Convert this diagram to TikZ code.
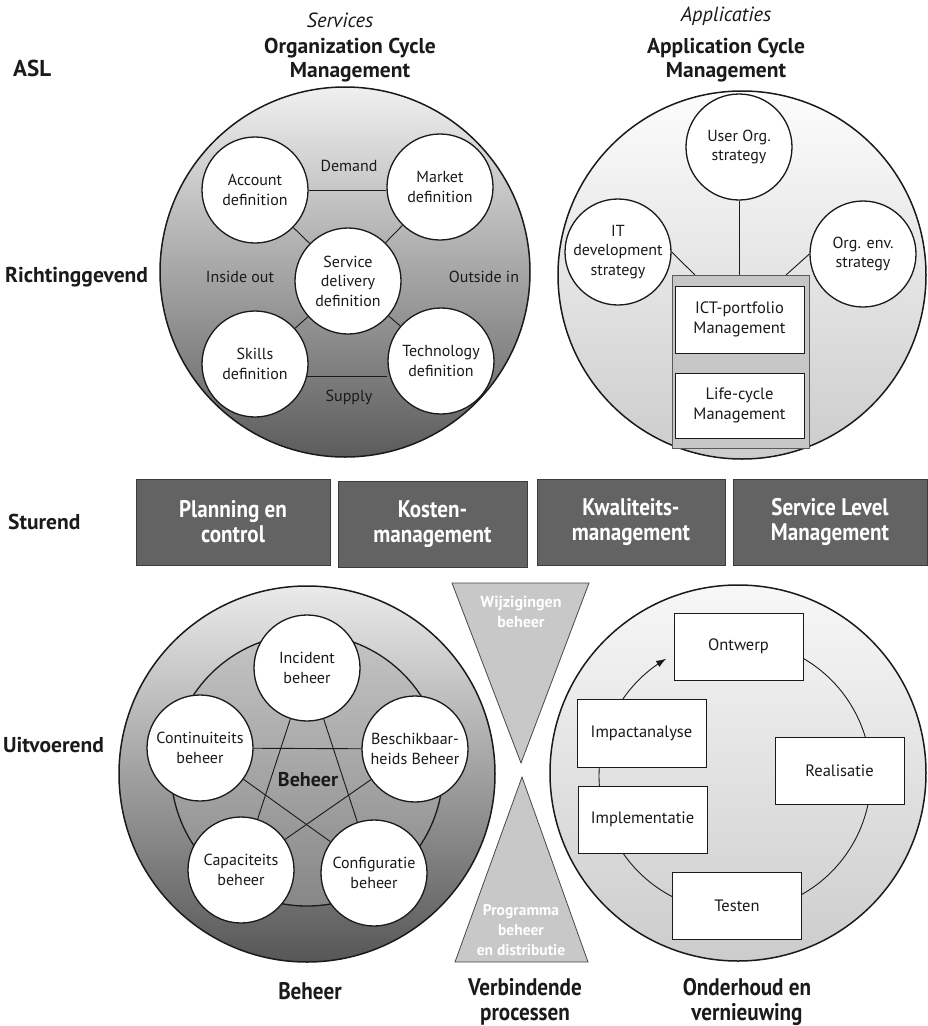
\documentclass[tikz,border=0pt]{standalone}
\usepackage{fontspec}
\setmainfont{PT Sans}
\newfontfamily\condfont{PT Sans}[FakeStretch=0.88]
\usetikzlibrary{arrows.meta,calc}
\pgfdeclarelayer{bg}
\pgfdeclarelayer{conn}
\pgfsetlayers{bg,conn,main}

\definecolor{ink}{HTML}{1A1A1A}
\definecolor{boxfill}{HTML}{636363}
\definecolor{boxedge}{HTML}{3C3C3C}
\definecolor{funnelgray}{HTML}{C8C8C8}
\definecolor{holdfill}{HTML}{C6C6C6}
\definecolor{holdedge}{HTML}{5A5A5A}

\begin{document}
\begin{tikzpicture}[x=1pt,y=-1pt,
  font=\fontsize{16}{19.5}\selectfont,
  every node/.style={text=ink},
  bigdisc/.style={circle, draw=ink, line width=1.5pt, minimum size=#1, inner sep=0pt},
  disc/.style={circle, draw=ink, line width=1.3pt, fill=white, minimum size=106pt, inner sep=0pt, align=center},
  link/.style={draw=ink, line width=0.9pt},
  wbox/.style={rectangle, draw=ink, line width=0.9pt, fill=white, minimum width=129pt, minimum height=67pt, inner sep=0pt, align=center, font=\fontsize{16.5}{20}\selectfont},
  sbox/.style={rectangle, draw=boxedge, line width=1pt, fill=boxfill, text=white, minimum height=86pt, inner sep=0pt, align=center, font=\condfont\bfseries\fontsize{24}{25}\selectfont},
  side/.style={anchor=west, inner sep=0pt, font=\bfseries\fontsize{21.5}{25}\selectfont},
  title/.style={align=center, font=\bfseries\fontsize{21.5}{23.5}\selectfont},
  subtitle/.style={font=\itshape\fontsize{20.5}{24}\selectfont},
  foot/.style={align=center, font=\condfont\bfseries\fontsize{24}{25}\selectfont},
  trilabel/.style={align=center, text=white, font=\bfseries\fontsize{16}{20}\selectfont},
  funnel/.style={fill=funnelgray, draw=ink!80, line width=0.8pt},
]
\useasboundingbox (0,0) rectangle (928,1026);

% ---------- row labels ----------
\node[side, font=\bfseries\fontsize{23}{26}\selectfont] (asl) at (13,68) {ASL};
\node[side] (rg) at (5,277) {Richtinggevend};
\node[side] (st) at (8,522) {Sturend};
\node[side] (uv) at (3,745) {Uitvoerend};

% ---------- column headings ----------
\node[subtitle] (svc) at (340,20) {Services};
\node[title] (ocmt) at (350,60) {Organization Cycle\\Management};
\node[subtitle] (app) at (726,16) {Applicaties};
\node[title] (acmt) at (726,60) {Application Cycle\\Management};

% ---------- big discs ----------
\begin{pgfonlayer}{bg}
  \node[bigdisc=370pt, top color=black!6, bottom color=black!64] (ocm) at (345,272) {};
  \node[bigdisc=368pt, top color=black!1, bottom color=black!20] (acm) at (742,275) {};
  \node[bigdisc=376pt, top color=black!8, bottom color=black!66] (bhr) at (307,774) {};
  \node[circle, draw=ink, line width=1.3pt, minimum size=272pt, inner sep=0pt,
        top color=black!23, bottom color=black!47] (ring) at (307,770) {};
  \node[bigdisc=376pt, top color=black!3, bottom color=black!20] (onv) at (738,773) {};
\end{pgfonlayer}

% ---------- Organization Cycle Management ----------
\node[disc] (acc) at (255,190) {Account\\definition};
\node[disc] (mkt) at (440,187) {Market\\definition};
\node[disc] (sdd) at (348,281) {Service\\delivery\\definition};
\node[disc] (skl) at (255,364) {Skills\\definition};
\node[disc] (tec) at (441,361) {Technology\\definition};
\node (dem) at (349,166) {Demand};
\node (sup) at (349,397) {Supply};
\node (ino) at (240,277) {Inside out};
\node (oui) at (484,277) {Outside in};
\begin{pgfonlayer}{conn}
  \draw[link] (acc.east) -- (acc.east -| mkt.west);
  \draw[link] (acc) -- (sdd);
  \draw[link] (mkt) -- (sdd);
  \draw[link] (skl) -- (sdd);
  \draw[link] (tec) -- (sdd);
  \draw[link] (skl.-13) -- (skl.-13 -| tec.west);
\end{pgfonlayer}

% ---------- Application Cycle Management ----------
\node[disc] (uos) at (739,147) {User Org.\\strategy};
\node[disc] (itd) at (618,252) {IT\\development\\strategy};
\node[disc] (oes) at (863,254) {Org. env.\\strategy};
\node[rectangle, draw=holdedge, line width=1pt, fill=holdfill, minimum width=137pt, minimum height=173pt, inner sep=0pt] (ctr) at (740.5,361.5) {};
\node[wbox] (ict) at (739.5,319.5) {ICT-portfolio\\Management};
\node[wbox, minimum height=65pt] (lcm) at (739.5,405.5) {Life-cycle\\Management};
\coordinate (jl) at (695,275);
\coordinate (jr) at (786,275);
\begin{pgfonlayer}{conn}
  \draw[link] (uos) -- (uos |- ctr.north);
  \draw[link] (itd.east) -- (jl);
  \draw[link] (oes.west) -- (jr);
\end{pgfonlayer}

% ---------- steering row ----------
\node[sbox, minimum width=194pt] (pc) at (233,522) {Planning en\\control};
\node[sbox, minimum width=189pt] (km) at (432.5,524) {Kosten-\\management};
\node[sbox, minimum width=188pt] (qm) at (631,522) {Kwaliteits-\\management};
\node[sbox, minimum width=194pt] (slm) at (830,522) {Service Level\\Management};

% ---------- Beheer ----------
\node[disc] (inc) at (307,668) {Incident\\beheer};
\node[disc] (con) at (200,748) {Continuiteits\\beheer};
\node[disc] (bes) at (415,749) {Beschikbaar-\\heids Beheer};
\node[disc] (cap) at (241,870) {Capaciteits\\beheer};
\node[disc] (cfg) at (374,873) {Configuratie\\beheer};
\node[font=\bfseries\fontsize{20}{23}\selectfont] (beh) at (308,780) {Beheer};
\begin{pgfonlayer}{conn}
  \draw[link] (inc) -- (cap);
  \draw[link] (inc) -- (cfg);
  \draw[link] (con) -- (bes);
  \draw[link] (con) -- (cfg);
  \draw[link] (bes) -- (cap);
\end{pgfonlayer}

% ---------- connecting processes ----------
\draw[funnel] (452,583) -- (589,583) -- (521,763) -- cycle;
\draw[funnel] (522,777) -- (588,962) -- (455,962) -- cycle;
\node[trilabel] (wzb) at (521,612) {Wijzigingen\\beheer};
\node[trilabel, font=\bfseries\fontsize{15.5}{20}\selectfont] (pbd) at (521,930) {Programma\\beheer\\en distributie};

% ---------- Onderhoud en vernieuwing ----------
\begin{pgfonlayer}{conn}
  \draw[link, -{Latex[length=10pt, width=7pt]}]
    plot[domain=270:599.6, samples=160] ({735+136*cos(\x)},{776+136*sin(\x)});
\end{pgfonlayer}
\node[wbox] (ont) at (738.5,646.5) {Ontwerp};
\node[wbox, minimum height=68pt] (imp) at (641.5,733) {Impactanalyse};
\node[wbox] (iml) at (642.5,819.5) {Implementatie};
\node[wbox] (rea) at (839.5,770.5) {Realisatie};
\node[wbox] (tes) at (737,905.5) {Testen};

% ---------- column footers ----------
\node[foot] (fb) at (310,991) {Beheer};
\node[foot] (fv) at (525,1002) {Verbindende\\processen};
\node[foot] (fo) at (747,1002) {Onderhoud en\\vernieuwing};
\end{tikzpicture}
\end{document}
